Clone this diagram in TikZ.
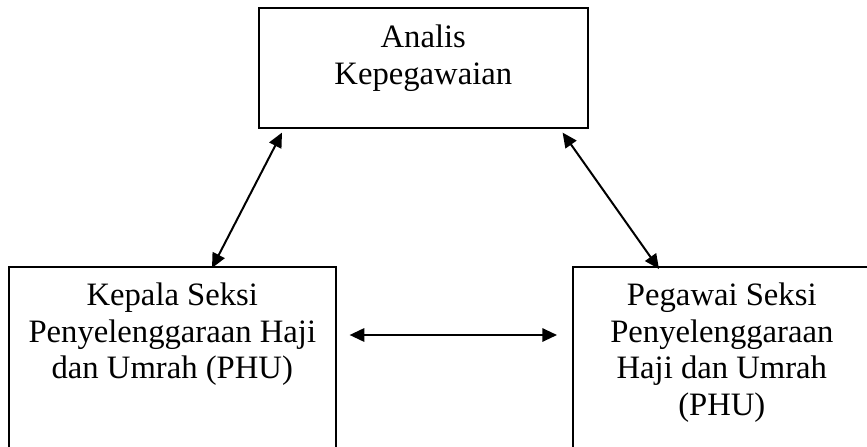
\documentclass[tikz,border=0pt]{standalone}
\usepackage{fontspec}
\setmainfont{Liberation Serif}
\usetikzlibrary{arrows.meta,calc}
\newcommand{\boxtext}[4]{\parbox[t][#2][t]{#1}{\centering\fontsize{24.5pt}{27.4pt}\selectfont\rule{0pt}{#3}#4}}
\begin{document}
\begin{tikzpicture}[x=0.75pt,y=-0.75pt,
  box/.style={draw, line width=1.2pt, inner sep=0pt, anchor=north west},
  link/.style={line width=1.5pt, {Triangle[length=11pt,width=10pt]}-{Triangle[length=11pt,width=10pt]}}]
\useasboundingbox (0,0) rectangle (867,446);
\clip (0,0) rectangle (867,446);
\node[box] (top) at (258,7) {\boxtext{246.75pt}{90pt}{30pt}{Analis\\Kepegawaian}};
\node[box] (left) at (8,266) {\boxtext{245.25pt}{138pt}{29.25pt}{Kepala Seksi\\Penyelenggaraan Haji\\dan Umrah (PHU)}};
\node[box] (right) at (572,266) {\boxtext{223.5pt}{138pt}{29.25pt}{Pegawai Seksi\\Penyelenggaraan\\Haji dan Umrah\\(PHU)}};
\draw[link] ($(top.south west)+(24,4)$) -- ($(left.north west)+(204,2)$);
\draw[link] ($(top.south east)+(-26,4)$) -- ($(right.north west)+(87,3)$);
\draw[link] ($(left.north east)+(13,69)$) -- ($(right.north west)+(-15,69)$);
\end{tikzpicture}
\end{document}
